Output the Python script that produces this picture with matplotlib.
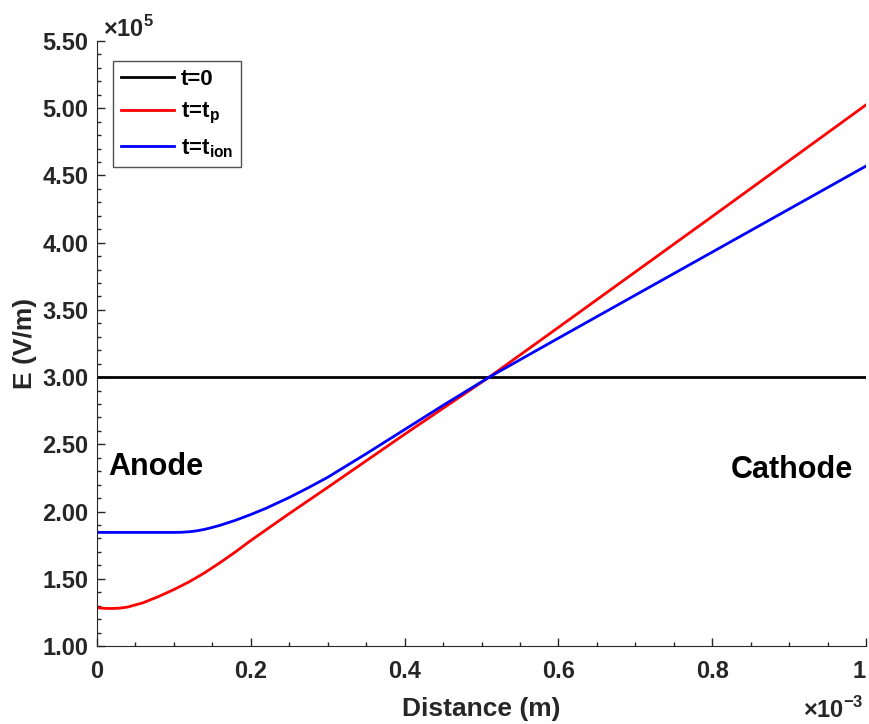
import numpy as np
import matplotlib
matplotlib.use('Agg')
import matplotlib.pyplot as plt
from matplotlib.ticker import MultipleLocator

plt.rcParams['font.family'] = ['Liberation Sans', 'DejaVu Sans']
plt.rcParams['font.weight'] = 'bold'
plt.rcParams['mathtext.fontset'] = 'custom'
plt.rcParams['mathtext.rm'] = 'Liberation Sans:bold'
plt.rcParams['mathtext.bf'] = 'Liberation Sans:bold'

# distance in units of 1e-3 m, field in units of 1e5 V/m
x_init = [0.0, 1.0]
e_init = [3.0, 3.0]

x_tp = [0.0, 0.01, 0.02, 0.03, 0.04, 0.06, 0.08, 0.10, 0.12, 0.14, 0.16, 0.18, 0.20,
        0.25, 0.30, 0.40, 0.51, 0.60, 0.80, 1.00]
e_tp = [1.285, 1.280, 1.279, 1.282, 1.290, 1.322, 1.368, 1.42, 1.478, 1.545, 1.62, 1.70, 1.785,
        1.985, 2.18, 2.575, 3.0, 3.37, 4.195, 5.025]

x_ion = [0.0, 0.05, 0.10, 0.11, 0.12, 0.13, 0.14, 0.15, 0.16, 0.18, 0.20, 0.22, 0.25,
         0.275, 0.30, 0.35, 0.40, 0.45, 0.51, 0.60, 0.80, 1.00]
e_ion = [1.845, 1.845, 1.845, 1.846, 1.85, 1.857, 1.868, 1.882, 1.898, 1.935, 1.978, 2.025, 2.105,
         2.178, 2.255, 2.43, 2.61, 2.79, 3.0, 3.29, 3.93, 4.57]

xticks = [0, 0.2, 0.4, 0.6, 0.8, 1.0]
xticklabels = ['0', '0.2', '0.4', '0.6', '0.8', '1']
yticks = [1.0, 1.5, 2.0, 2.5, 3.0, 3.5, 4.0, 4.5, 5.0, 5.5]
yticklabels = ['%.2f' % v for v in yticks]

fig = plt.figure(figsize=(8.7, 7.24), dpi=100)
ax = fig.add_axes([0.1115, 0.1077, 0.884, 0.8357])

ax.plot(x_init, e_init, color='black', lw=2, label='t=0')
ax.plot(x_tp, e_tp, color='red', lw=2, label=r't=t$_\mathrm{p}$')
ax.plot(x_ion, e_ion, color='blue', lw=2, label=r't=t$_\mathrm{ion}$')

ax.set_xlim(0, 1)
ax.set_ylim(1, 5.5)
ax.set_xticks(xticks)
ax.set_xticklabels(xticklabels)
ax.set_yticks(yticks)
ax.set_yticklabels(yticklabels)
ax.xaxis.set_minor_locator(MultipleLocator(0.05))
ax.yaxis.set_minor_locator(MultipleLocator(0.1))
ax.tick_params(which='both', direction='in', colors='#262626', labelsize=17)
ax.tick_params(which='major', length=6, width=1)
ax.tick_params(which='minor', length=3, width=1)
ax.tick_params(axis='x', which='major', pad=10)
ax.tick_params(axis='y', which='major', pad=6)
for lab in ax.get_xticklabels() + ax.get_yticklabels():
    lab.set_fontweight('bold')
ax.get_xticklabels()[-1].set_horizontalalignment('right')
ax.spines['top'].set_visible(False)
ax.spines['right'].set_visible(False)
ax.spines['left'].set_color('#262626')
ax.spines['bottom'].set_color('#262626')

ax.set_xlabel('Distance (m)', fontsize=19, fontweight='bold', color='#262626', labelpad=10)
ax.set_ylabel('E (V/m)', fontsize=19, fontweight='bold', color='#262626', labelpad=4)

ax.text(0.008, 1.007, r'$\times$10$^\mathrm{5}$', transform=ax.transAxes, fontsize=17,
        color='#262626', va='baseline', ha='left')
ax.text(0.997, -0.118, r'$\times$10$^\mathrm{-3}$', transform=ax.transAxes, fontsize=17,
        color='#262626', va='baseline', ha='right')

ax.text(0.015, 2.27, 'Anode', fontsize=22, fontweight='bold', va='baseline')
ax.text(0.983, 2.25, 'Cathode', fontsize=22, fontweight='bold', va='baseline', ha='right')

leg = ax.legend(loc='upper left', bbox_to_anchor=(0.021, 0.967), fontsize=16,
                frameon=True, fancybox=False, handlelength=2.4, handletextpad=0.3,
                labelspacing=0.5, borderpad=0.35, borderaxespad=0)
leg.get_frame().set_edgecolor('#262626')
leg.get_frame().set_linewidth(1)
for t in leg.get_texts():
    t.set_fontweight('bold')

fig.savefig('out.png', dpi=100)
